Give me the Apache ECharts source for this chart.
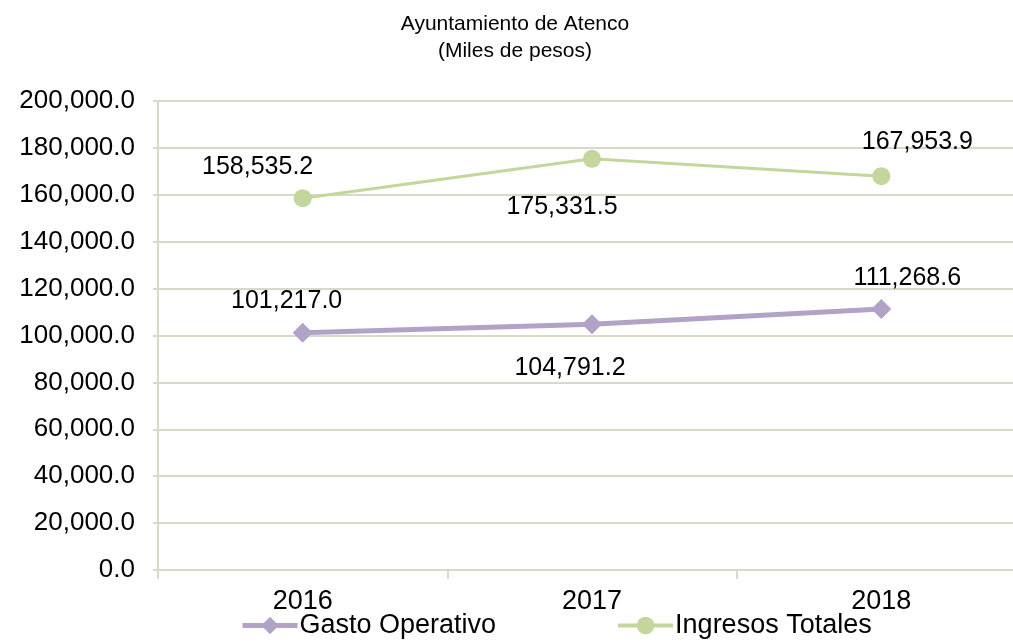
<!DOCTYPE html>
<html>
<head>
<meta charset="utf-8">
<script src="https://cdn.jsdelivr.net/npm/echarts@6/dist/echarts.min.js"></script>
<style>
  html, body { margin: 0; padding: 0; background: #fff; }
  #chart { width: 1013px; height: 642px; }
</style>
</head>
<body>
<div id="chart"></div>
<script>
// datos
const years = ['2016', '2017', '2018'];
const gastoOperativo = [101217.0, 104791.2, 111268.6];
const ingresosTotales = [158535.2, 175331.5, 167953.9];

const fmt = v => v.toLocaleString('en-US', { minimumFractionDigits: 1, maximumFractionDigits: 1 });

// offsets de etiquetas (como en el original)
const gastoLabelOffsets = [[-16, -32], [-22, 44], [26, -31]];
const ingresosLabelOffsets = [[-45, -31], [-30, 48], [36, -34]];

const chart = echarts.init(document.getElementById('chart'), null, { renderer: 'canvas' });

const gridColor = '#d9d9c9';
const font = 'Liberation Sans, Arial, sans-serif';

const option = {
    backgroundColor: '#fff',
    animation: false,
    title: {
        text: 'Ayuntamiento de Atenco\n(Miles de pesos)',
        left: 510,
        top: 6,
        textAlign: 'center',
        textStyle: {
            fontFamily: font,
            fontWeight: 'normal',
            fontSize: 21,
            lineHeight: 27,
            color: '#000'
        }
    },
    legend: {
        top: 612,
        left: 240,
        padding: 0,
        itemGap: 120,
        itemWidth: 55,
        itemHeight: 22,
        textStyle: {
            fontFamily: font,
            fontSize: 27,
            color: '#000',
            padding: [0, 0, 0, -3]
        },
        data: [
            { name: 'Gasto Operativo', lineStyle: { width: 5 } },
            { name: 'Ingresos Totales', lineStyle: { width: 4 } }
        ]
    },
    grid: {
        outerBoundsMode: 'none',
        left: 158,
        width: 868,
        top: 101,
        bottom: 72
    },
    xAxis: {
        type: 'category',
        data: years,
        axisLine: { lineStyle: { color: gridColor, width: 2 } },
        axisTick: { show: true, length: 9, lineStyle: { color: gridColor, width: 2 } },
        axisLabel: {
            fontFamily: font,
            fontSize: 27,
            color: '#000',
            margin: 18
        }
    },
    yAxis: {
        type: 'value',
        min: 0,
        max: 200000,
        interval: 20000,
        axisLine: { show: true, lineStyle: { color: gridColor, width: 2 } },
        axisTick: { show: true, length: 5, lineStyle: { color: gridColor, width: 2 } },
        splitLine: { lineStyle: { color: gridColor, width: 2 } },
        axisLabel: {
            fontFamily: font,
            fontSize: 26,
            color: '#000',
            margin: 23,
            formatter: v => fmt(v)
        }
    },
    series: [
        {
            name: 'Gasto Operativo',
            type: 'line',
            data: gastoOperativo.map((v, i) => ({
                value: v,
                label: { offset: gastoLabelOffsets[i] }
            })),
            symbol: 'diamond',
            symbolSize: 20,
            itemStyle: { color: '#b3a2c7' },
            lineStyle: { color: '#b3a2c7', width: 5 },
            label: {
                show: true,
                position: 'inside',
                fontFamily: font,
                fontSize: 25,
                color: '#000',
                formatter: p => fmt(p.value)
            }
        },
        {
            name: 'Ingresos Totales',
            type: 'line',
            data: ingresosTotales.map((v, i) => ({
                value: v,
                label: { offset: ingresosLabelOffsets[i] }
            })),
            symbol: 'circle',
            symbolSize: 18,
            itemStyle: { color: '#c3d69b' },
            lineStyle: { color: '#c3d69b', width: 3 },
            label: {
                show: true,
                position: 'inside',
                fontFamily: font,
                fontSize: 25,
                color: '#000',
                formatter: p => fmt(p.value)
            }
        }
    ]
};

chart.setOption(option);
</script>
</body>
</html>
